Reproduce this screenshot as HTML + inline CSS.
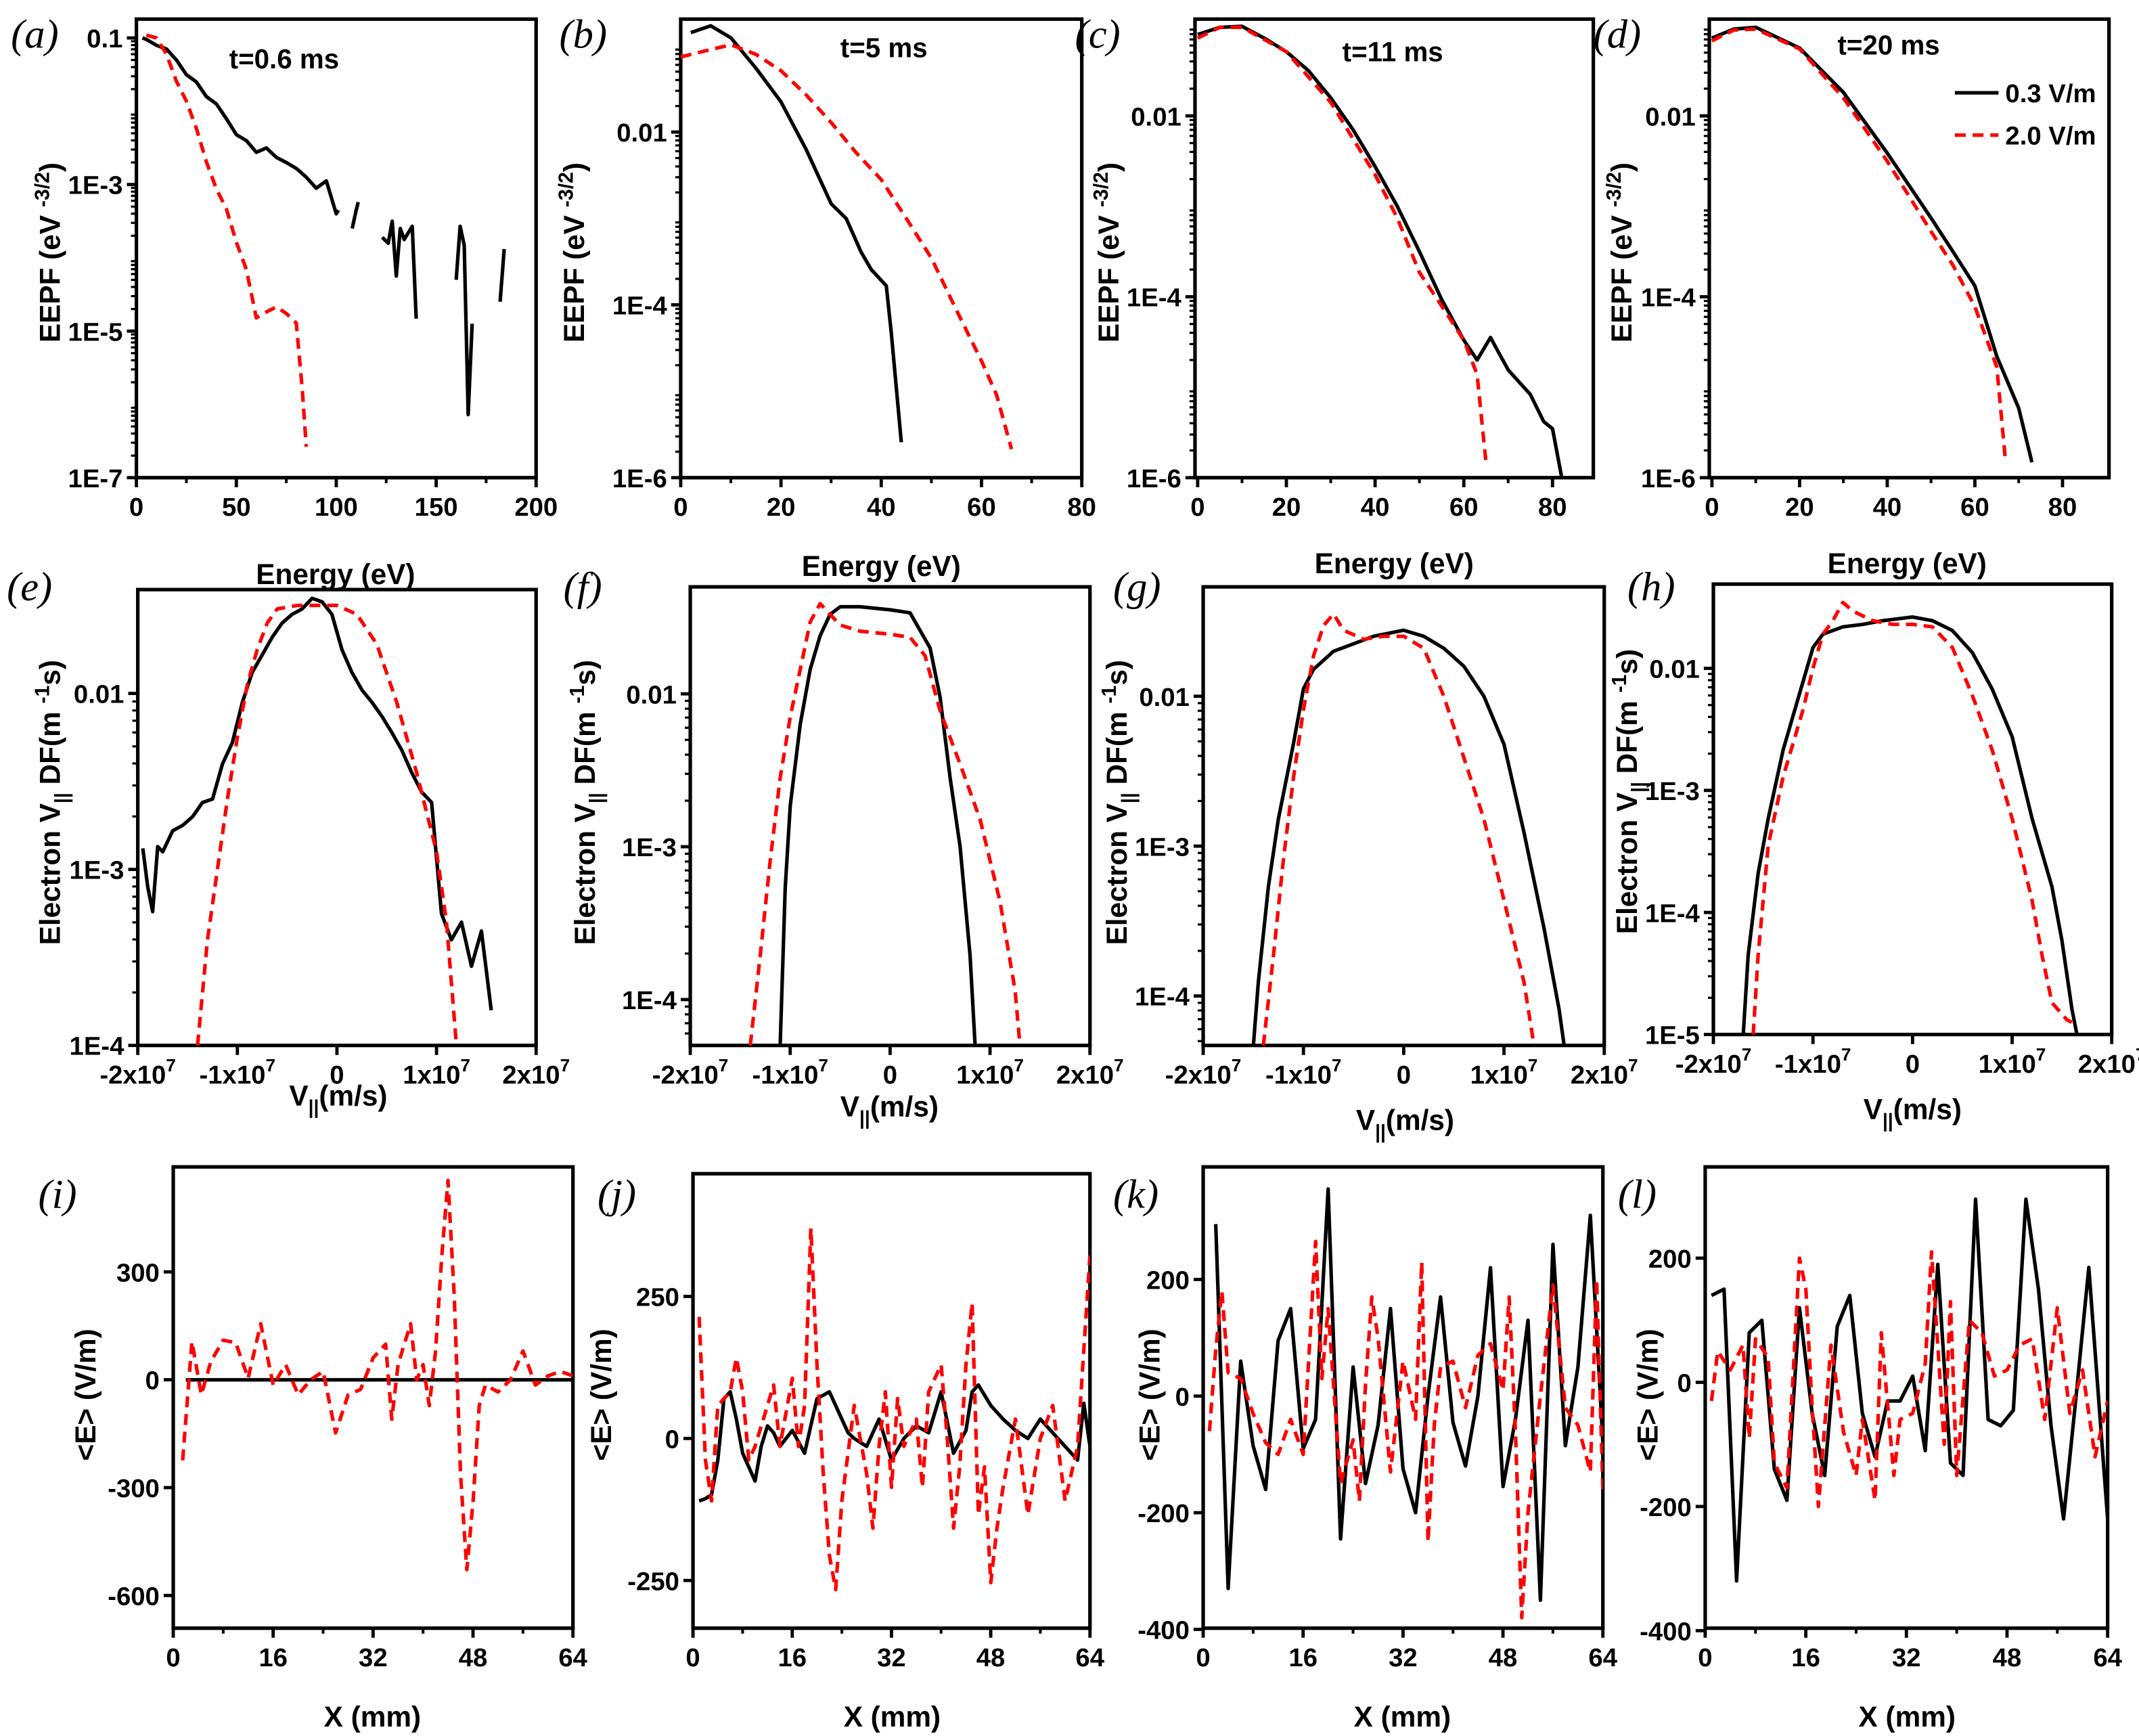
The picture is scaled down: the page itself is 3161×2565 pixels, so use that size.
<!DOCTYPE html>
<html><head><meta charset="utf-8"><style>
html,body{margin:0;padding:0;background:#fff;}
svg{display:block;}
text{font-family:"Liberation Sans",Arial,sans-serif;font-weight:bold;fill:#000;}
.pl{font-family:"Liberation Serif",serif;font-style:italic;font-weight:normal;font-size:30px;}
</style></head><body>
<svg id="fig" xmlns="http://www.w3.org/2000/svg" width="3161" height="2565" viewBox="0 0 1568 1272" preserveAspectRatio="none"></svg>
<script>
// ---------- Panel (a) data : energy (eV), log10 EEPF ----------
const aBlackE = [3,5,10,15,20,25,30,35,40,45,50,55,60,65,70,75,80,85,90,95,100,101,null,108,110,111,null,123,126,128,130,132,134,138,140,null,160,162,164,166,168,null,182,184];
const aBlackL = [-1.0,-1.02,-1.1,-1.15,-1.3,-1.5,-1.6,-1.8,-1.9,-2.1,-2.32,-2.4,-2.56,-2.5,-2.63,-2.7,-2.78,-2.9,-3.05,-2.95,-3.4,-3.35,null,-3.6,-3.35,-3.24,null,-3.72,-3.8,-3.5,-4.25,-3.6,-3.75,-3.57,-4.83,null,-4.3,-3.57,-3.83,-6.14,-4.9,null,-4.6,-3.88];
const aRedE = [5,10,15,20,25,30,35,40,45,50,55,60,65,70,75,80,83,85];
const aRedL = [-0.96,-1.0,-1.22,-1.59,-1.86,-2.23,-2.69,-3.06,-3.33,-3.79,-4.16,-4.82,-4.74,-4.67,-4.76,-4.89,-5.8,-6.58];
// ---------- Panel (b) ----------
const bBlackE = [2,6,10,15,20,25,30,33,36,38,41,42,44];
const bBlackL = [-0.85,-0.77,-0.91,-1.26,-1.65,-2.2,-2.83,-3.0,-3.39,-3.59,-3.78,-4.33,-5.59];
const bRedE = [0,5,10,15,20,25,30,35,40,45,50,55,60,63,66];
const bRedL = [-1.13,-1.06,-0.99,-1.1,-1.29,-1.57,-1.89,-2.24,-2.55,-3.0,-3.46,-4.06,-4.65,-5.04,-5.67];
// ---------- Panel (c) ----------
const cBlackE = [0,5,10,15,20,25,30,35,40,45,50,55,60,63,66,70,75,78,80,82];
const cBlackL = [-1.1,-1.02,-1.01,-1.14,-1.29,-1.5,-1.8,-2.15,-2.56,-3.0,-3.5,-4.03,-4.48,-4.7,-4.45,-4.81,-5.08,-5.38,-5.46,-5.98];
const cRedE = [0,5,10,20,30,40,45,50,55,60,63,65];
const cRedL = [-1.14,-1.02,-1.02,-1.29,-1.85,-2.65,-3.13,-3.73,-4.1,-4.48,-4.86,-5.83];
// ---------- Panel (d) ----------
const dBlackE = [0,5,10,20,30,40,50,55,60,65,70,73];
const dBlackL = [-1.14,-1.04,-1.02,-1.25,-1.74,-2.41,-3.13,-3.5,-3.88,-4.66,-5.23,-5.83];
const dRedE = [0,5,10,20,30,40,50,55,60,65,67];
const dRedL = [-1.17,-1.05,-1.04,-1.26,-1.8,-2.5,-3.28,-3.65,-4.11,-4.78,-5.83];
// ---------- Panel (e) : v (1e7 m/s), log10 VDF ----------
const eBlackV = [-1.95,-1.9,-1.85,-1.8,-1.75,-1.65,-1.55,-1.45,-1.35,-1.25,-1.15,-1.05,-0.95,-0.85,-0.75,-0.65,-0.55,-0.45,-0.35,-0.25,-0.15,-0.05,0.05,0.15,0.25,0.35,0.45,0.55,0.65,0.75,0.85,0.95,1.05,1.15,1.25,1.35,1.45,1.55];
const eBlackL = [-2.88,-3.1,-3.24,-2.87,-2.9,-2.78,-2.75,-2.7,-2.62,-2.6,-2.4,-2.28,-2.05,-1.88,-1.78,-1.68,-1.6,-1.55,-1.52,-1.46,-1.48,-1.55,-1.75,-1.88,-1.98,-2.05,-2.13,-2.22,-2.32,-2.45,-2.56,-2.62,-3.25,-3.4,-3.3,-3.55,-3.35,-3.8];
const eRedV = [-1.4,-1.3,-1.2,-1.1,-1.0,-0.9,-0.8,-0.7,-0.6,-0.4,-0.2,0,0.2,0.4,0.6,0.8,1.0,1.1,1.2];
const eRedL = [-4.0,-3.4,-3.0,-2.6,-2.25,-1.95,-1.75,-1.6,-1.52,-1.5,-1.5,-1.5,-1.55,-1.72,-2.05,-2.45,-2.9,-3.3,-4.0];
// ---------- Panel (f) ----------
const fBlackV = [-1.1,-1.05,-1.0,-0.9,-0.8,-0.7,-0.6,-0.5,-0.3,0,0.2,0.4,0.5,0.6,0.7,0.8,0.85];
const fBlackL = [-4.3,-3.27,-2.73,-2.2,-1.84,-1.62,-1.48,-1.43,-1.43,-1.45,-1.47,-1.7,-2.02,-2.55,-3.0,-3.71,-4.3];
const fRedV = [-1.4,-1.3,-1.2,-1.1,-1.0,-0.9,-0.8,-0.7,-0.6,-0.5,-0.3,0,0.2,0.35,0.5,0.7,0.9,1.1,1.25,1.3];
const fRedL = [-4.3,-3.71,-3.09,-2.55,-2.15,-1.84,-1.53,-1.41,-1.48,-1.55,-1.59,-1.61,-1.63,-1.75,-2.11,-2.46,-2.82,-3.36,-3.94,-4.3];
// ---------- Panel (g) ----------
const gBlackV = [-1.5,-1.45,-1.35,-1.25,-1.1,-1.0,-0.9,-0.7,-0.5,-0.3,0,0.2,0.4,0.6,0.8,1.0,1.2,1.4,1.55,1.6];
const gBlackL = [-4.33,-3.91,-3.27,-2.82,-2.32,-1.95,-1.82,-1.7,-1.65,-1.6,-1.56,-1.6,-1.68,-1.8,-2.0,-2.32,-2.91,-3.55,-4.09,-4.33];
const gRedV = [-1.4,-1.3,-1.2,-1.1,-1.0,-0.9,-0.8,-0.7,-0.6,-0.4,-0.2,0,0.2,0.4,0.6,0.8,1.0,1.2,1.3];
const gRedL = [-4.33,-3.73,-3.09,-2.55,-2.09,-1.73,-1.53,-1.45,-1.56,-1.62,-1.6,-1.6,-1.68,-2.0,-2.41,-2.82,-3.36,-3.91,-4.33];
// ---------- Panel (h) ----------
const hBlackV = [-1.7,-1.65,-1.55,-1.45,-1.3,-1.1,-1.0,-0.9,-0.7,-0.5,-0.3,0,0.2,0.4,0.6,0.8,1.0,1.2,1.4,1.5,1.6,1.65];
const hBlackL = [-5.0,-4.35,-3.68,-3.23,-2.67,-2.11,-1.83,-1.72,-1.66,-1.64,-1.61,-1.58,-1.61,-1.69,-1.87,-2.17,-2.56,-3.23,-3.79,-4.23,-4.79,-5.0];
const hRedV = [-1.6,-1.55,-1.45,-1.3,-1.1,-1.0,-0.9,-0.8,-0.7,-0.6,-0.4,-0.2,0,0.2,0.4,0.6,0.8,1.0,1.2,1.3,1.4,1.55,1.6];
const hRedL = [-5.0,-4.35,-3.45,-2.89,-2.34,-2.0,-1.72,-1.61,-1.46,-1.53,-1.61,-1.64,-1.64,-1.66,-1.83,-2.22,-2.67,-3.23,-3.9,-4.35,-4.74,-4.88,-4.9];
// ---------- Panel (i) : X (mm), <E> (V/m) ----------
const iBlackX = [2,64];
const iBlackE = [0,0];
const iRedX = [1.5,3,4.5,6,8,10,12,14,16,18,20,22,24,26,28,30,32,34,35,36,38,39,40,41,42,43,44,45,46,47,48,49,50,52,54,56,58,60,62,64];
const iRedE = [-224,106,-42,50,110,103,4,156,-15,42,-42,0,23,-148,-42,-27,61,99,-110,42,156,0,42,-72,80,346,554,232,-262,-528,-338,-72,-15,-34,0,80,-15,11,23,11];
// ---------- Panel (j) ----------
const jBlackX = [1,2,3,4,5,6,7,8,10,11,12,13,14,15,16,18,20,22,24,25,26,28,30,32,34,36,38,40,42,44,45,46,48,50,52,54,56,58,60,62,63,64];
const jBlackE = [-110,-106,-99,-38,70,82,34,-26,-75,-14,22,10,-14,0,14,-26,70,82,34,10,0,-14,34,-38,0,22,10,82,-26,14,82,94,58,34,14,0,34,10,-14,-38,62,-14];
const jRedX = [1,2,3,4,6,7,8,9,10,12,13,14,16,17,18,19,20,21,22,23,24,26,28,29,30,31,32,33,34,36,37,38,40,41,42,43,44,45,46,47,48,49,50,52,54,56,58,60,62,64];
const jRedE = [214,-38,-110,58,82,142,82,-38,-14,58,94,-14,106,-14,58,370,130,-62,-206,-266,-110,58,-62,-158,-14,82,-86,70,-14,34,-86,82,130,0,-158,-50,130,238,-134,-50,-254,-158,-86,34,-134,0,58,-110,-14,322];
// ---------- Panel (k) ----------
const kBlackX = [2,4,6,8,10,12,14,16,18,20,22,24,26,28,30,32,34,36,38,40,42,44,46,48,50,52,54,56,58,60,62,64];
const kBlackE = [295,-330,60,-85,-160,95,150,-90,-40,355,-245,50,-150,-50,150,-125,-200,0,170,-45,-120,0,220,-155,-40,130,-350,260,-85,50,310,-80];
const kRedX = [1,2,3,4,6,8,10,12,14,16,18,19,20,22,24,25,26,27,28,30,32,34,35,36,37,38,40,42,44,46,48,49,50,51,52,54,56,58,60,62,63,64];
const kRedE = [-60,80,180,40,30,-30,-80,-100,-40,-100,265,30,150,-150,-75,-180,20,170,100,-130,60,-40,230,-250,-50,50,60,-20,70,90,10,170,-60,-380,-200,0,190,-20,-50,-130,200,-160];
// ---------- Panel (l) ----------
const lBlackX = [1,3,5,7,9,11,13,15,17,19,21,23,25,27,29,31,33,35,37,39,41,43,45,47,49,51,53,55,57,59,61,64];
const lBlackE = [140,150,-320,80,100,-140,-190,120,-50,-150,90,140,-50,-120,-30,-30,10,-110,190,-130,-150,295,-60,-70,-45,295,150,-70,-220,-20,185,-220];
const lRedX = [1,2,4,6,7,8,10,11,13,15,16,17,18,20,22,24,25,27,28,30,31,33,35,36,37,38,39,40,42,44,46,48,50,52,54,56,58,60,62,64];
const lRedE = [-30,50,20,60,-90,70,40,-130,-170,200,150,-40,-200,60,-80,-150,-60,-190,80,-150,-60,-50,30,210,60,-100,130,-150,100,80,10,20,60,70,-60,120,-50,20,-120,-30];

// ---------- tick labels ----------
const eepfTicksA = [-1,-3,-5,-7];
const eepfTickLabelsA = ["0.1","1E-3","1E-5","1E-7"];
const eepfTicksB = [-2,-4,-6];
const eepfTickLabelsB = ["0.01","1E-4","1E-6"];
const energyTicksA = [0,50,100,150,200];
const energyTicksB = [0,20,40,60,80];
const vTicks = [-2,-1,0,1,2];
const vTickLabels = ["-2x10^7","-1x10^7","0","1x10^7","2x10^7"];
const vdfTicks3 = [-2,-3,-4];
const vdfTickLabels3 = ["0.01","1E-3","1E-4"];
const vdfTicks4 = [-2,-3,-4,-5];
const vdfTickLabels4 = ["0.01","1E-3","1E-4","1E-5"];
const xmmTicks = [0,16,32,48,64];
const eTicksI = [300,0,-300,-600];
const eTicksJ = [250,0,-250];
const eTicksK = [200,0,-200,-400];

const NS = "http://www.w3.org/2000/svg";
const svg = document.getElementById('fig');
function mk(tag, attrs, parent){
  const e = document.createElementNS(NS, tag);
  for (const k in attrs) e.setAttribute(k, attrs[k]);
  (parent||svg).appendChild(e);
  return e;
}
let clipId = 0;
function panel(p){
  const g = mk('g', {});
  
  
  const sx = v => p.px0 + (v - p.xmin) / (p.xmax - p.xmin) * (p.px1 - p.px0);
  const sy = v => p.pyb - (v - p.ymin) / (p.ymax - p.ymin) * (p.pyb - p.pyt);
  // frame
  const fr = mk('rect', {x:p.px0, y:p.pyt, width:p.px1-p.px0, height:p.pyb-p.pyt, fill:'none', stroke:'#000', 'stroke-width':2.6}, g);
  
  
  // clip
  clipId++;
  const cp = mk('clipPath', {id:'c'+clipId}, g);
  mk('rect', {x:p.px0, y:p.pyt, width:p.px1-p.px0, height:p.pyb-p.pyt}, cp);
  // x ticks
  p.xt.forEach((t, i) => {
    const x = sx(t);
    mk('line', {x1:x, x2:x, y1:p.pyb, y2:p.pyb+7, stroke:'#000', 'stroke-width':2.4}, g);
    const lab = p.xtl ? p.xtl[i] : String(t);
    const tx = mk('text', {x:x, y:p.pyb+28, 'text-anchor':'middle', 'font-size':19}, g);
    
    
    if (lab.indexOf('^') >= 0) {
      const parts = lab.split('^');
      tx.textContent = parts[0];
      const s = mk('tspan', {dy:-9, 'font-size':13}, tx);
      s.textContent = parts[1];
    } else tx.textContent = lab;
    if (i < p.xt.length-1 && p.minorX) {
      const xm = sx((t + p.xt[i+1]) / 2);
      mk('line', {x1:xm, x2:xm, y1:p.pyb, y2:p.pyb+4, stroke:'#000', 'stroke-width':2}, g);
    }
  });
  // y ticks
  p.yt.forEach((t, i) => {
    const y = sy(t);
    mk('line', {x1:p.px0-7, x2:p.px0, y1:y, y2:y, stroke:'#000', 'stroke-width':2.4}, g);
    const tx = mk('text', {x:p.px0-10, y:y+7, 'text-anchor':'end', 'font-size':19}, g);
    
    
    tx.textContent = p.ytl ? p.ytl[i] : String(t);
    if (p.log) {
      for (let d = 0; d > -1; d -= 1) {
        for (let m = 2; m <= 9; m++) {
          const lv = t + Math.log10(m) - 1;
          if (lv > p.ymin && lv < p.ymax) { const yy = sy(lv); mk('line', {x1:p.px0-4, x2:p.px0, y1:yy, y2:yy, stroke:'#000', 'stroke-width':1.6}, g); }
          const lv2 = t + Math.log10(m);
          if (lv2 < p.ymax && p.step===2) { const yy = sy(lv2); mk('line', {x1:p.px0-4, x2:p.px0, y1:yy, y2:yy, stroke:'#000', 'stroke-width':1.6}, g); }
        }
      }
    }
  });
  // series
  const cg = mk('g', {'clip-path':'url(#c'+clipId+')'}, g);
  p.series.forEach(s => {
    let d = '', pen = false;
    for (let i = 0; i < s.x.length; i++) {
      if (s.x[i] === null || s.y[i] === null) { pen = false; continue; }
      d += (pen ? 'L' : 'M') + sx(s.x[i]).toFixed(1) + ' ' + sy(s.y[i]).toFixed(1);
      pen = true;
    }
    const path = mk('path', {d:d, fill:'none', stroke:s.red ? '#ff0000' : '#000', 'stroke-width':2.6, 'stroke-linejoin':'round', 'stroke-dasharray':s.red ? '8 5' : 'none'}, cg);
    
    
  });
  return g;
}

// ---- Row 1 ----
panel({id:'a', px0:100, px1:393, pyt:14, pyb:350, xmin:0, xmax:200, ymin:-7, ymax:-0.743, log:true, step:2,
  xt:energyTicksA, minorX:true, yt:eepfTicksA, ytl:eepfTickLabelsA,
  series:[{x:aBlackE, y:aBlackL}, {x:aRedE, y:aRedL, red:true}]});
panel({id:'b', px0:499, px1:793, pyt:14, pyb:350, xmin:0, xmax:80, ymin:-6, ymax:-0.693, log:true, step:2,
  xt:energyTicksB, minorX:true, yt:eepfTicksB, ytl:eepfTickLabelsB,
  series:[{x:bBlackE, y:bBlackL}, {x:bRedE, y:bRedL, red:true}]});
panel({id:'c', px0:876, px1:1168, pyt:14, pyb:350, xmin:-0.6, xmax:89.2, ymin:-6, ymax:-0.93, log:true, step:2,
  xt:energyTicksB, minorX:true, yt:eepfTicksB, ytl:eepfTickLabelsB,
  series:[{x:cBlackE, y:cBlackL}, {x:cRedE, y:cRedL, red:true}]});
panel({id:'d', px0:1253, px1:1546, pyt:14, pyb:350, xmin:-0.6, xmax:90.6, ymin:-6, ymax:-0.93, log:true, step:2,
  xt:energyTicksB, minorX:true, yt:eepfTicksB, ytl:eepfTickLabelsB,
  series:[{x:dBlackE, y:dBlackL}, {x:dRedE, y:dRedL, red:true}]});
// ---- Row 2 ----
panel({id:'e', px0:101, px1:393, pyt:432, pyb:766, xmin:-2, xmax:2, ymin:-4, ymax:-1.41, log:true, step:1,
  xt:vTicks, xtl:vTickLabels, yt:vdfTicks3, ytl:vdfTickLabels3,
  series:[{x:eBlackV, y:eBlackL}, {x:eRedV, y:eRedL, red:true}]});
panel({id:'f', px0:506, px1:799, pyt:430, pyb:766, xmin:-2, xmax:2, ymin:-4.3, ymax:-1.3, log:true, step:1,
  xt:vTicks, xtl:vTickLabels, yt:vdfTicks3, ytl:vdfTickLabels3,
  series:[{x:fBlackV, y:fBlackL}, {x:fRedV, y:fRedL, red:true}]});
panel({id:'g', px0:882, px1:1176, pyt:430, pyb:766, xmin:-2, xmax:2, ymin:-4.33, ymax:-1.27, log:true, step:1,
  xt:vTicks, xtl:vTickLabels, yt:vdfTicks3, ytl:vdfTickLabels3,
  series:[{x:gBlackV, y:gBlackL}, {x:gRedV, y:gRedL, red:true}]});
panel({id:'h', px0:1256, px1:1548, pyt:428, pyb:758, xmin:-2, xmax:2, ymin:-5, ymax:-1.31, log:true, step:1,
  xt:vTicks, xtl:vTickLabels, yt:vdfTicks4, ytl:vdfTickLabels4,
  series:[{x:hBlackV, y:hBlackL}, {x:hRedV, y:hRedL, red:true}]});
// ---- Row 3 ----
panel({id:'i', px0:127, px1:420, pyt:855, pyb:1193, xmin:0, xmax:64, ymin:-691, ymax:592,
  xt:xmmTicks, minorX:true, yt:eTicksI,
  series:[{x:iBlackX, y:iBlackE}, {x:iRedX, y:iRedE, red:true}]});
panel({id:'j', px0:508, px1:799, pyt:860, pyb:1193, xmin:0, xmax:64, ymin:-334, ymax:466,
  xt:xmmTicks, minorX:true, yt:eTicksJ,
  series:[{x:jBlackX, y:jBlackE}, {x:jRedX, y:jRedE, red:true}]});
panel({id:'k', px0:882, px1:1175, pyt:855, pyb:1193, xmin:0, xmax:64, ymin:-398, ymax:393,
  xt:xmmTicks, minorX:true, yt:eTicksK,
  series:[{x:kBlackX, y:kBlackE}, {x:kRedX, y:kRedE, red:true}]});
panel({id:'l', px0:1250, px1:1545, pyt:855, pyb:1193, xmin:0, xmax:64, ymin:-396, ymax:347,
  xt:xmmTicks, minorX:true, yt:eTicksK,
  series:[{x:lBlackX, y:lBlackE}, {x:lRedX, y:lRedE, red:true}]});
</script>
<script>
// static labels
(function(){
  const NS = "http://www.w3.org/2000/svg";
  const svg = document.getElementById('fig');
  function txt(name, x, y, s, size, extra){
    const t = document.createElementNS(NS, 'text');
    t.setAttribute('x', x); t.setAttribute('y', y);
    t.setAttribute('font-size', size || 20);
    if (extra) for (const k in extra) t.setAttribute(k, extra[k]);
    
    
    t.innerHTML = s;
    svg.appendChild(t);
    return t;
  }
  const letters = [['a',8,35],['b',410,35],['c',788,35],['d',1168,35],['e',5,440],['f',413,440],['g',816,440],['h',1193,440],['i',28,885],['j',438,885],['k',816,885],['l',1186,885]];
  letters.forEach(l => txt('panel-letter-'+l[0], l[1], l[2], '('+l[0]+')', 30, {'class':'pl'}));
  txt('time-label-a', 168, 50, 't=0.6 ms', 20);
  txt('time-label-b', 616, 42, 't=5 ms', 20);
  txt('time-label-c', 984, 45, 't=11 ms', 20);
  txt('time-label-d', 1347, 40, 't=20 ms', 20);
  // legend
  const lg = document.createElementNS(NS,'g');
   
  lg.innerHTML = '<line x1="1433" y1="68" x2="1465" y2="68" stroke="#000" stroke-width="2.6"/><line x1="1433" y1="99" x2="1465" y2="99" stroke="#f00" stroke-width="2.6" stroke-dasharray="8 5"/>';
  svg.appendChild(lg);
  txt('legend-entry-0-3', 1470, 75, '0.3 V/m', 19);
  txt('legend-entry-2-0', 1470, 106, '2.0 V/m', 19);
  // x axis titles
  [[246,428],[646,422],[1022,420],[1398,420]].forEach((p,i)=>txt('x-axis-title-row1-'+i, p[0], p[1], 'Energy (eV)', 21, {'text-anchor':'middle'}));
  [[248,810],[652,818],[1030,828],[1402,820]].forEach((p,i)=>txt('x-axis-title-row2-'+i, p[0], p[1], 'V<tspan font-size="14" dy="6">||</tspan><tspan dy="-6">(m/s)</tspan>', 21, {'text-anchor':'middle'}));
  [[273,1265],[654,1265],[1028,1265],[1398,1265]].forEach((p,i)=>txt('x-axis-title-row3-'+i, p[0], p[1], 'X (mm)', 21, {'text-anchor':'middle'}));
  // y axis titles
  [[44,185],[428,185],[820,185],[1196,185]].forEach((p,i)=>txt('y-axis-title-row1-'+i, p[0], p[1], 'EEPF (eV <tspan font-size="15" dy="-8">-3/2</tspan><tspan dy="8">)</tspan>', 21, {'text-anchor':'middle', transform:'rotate(-90 '+p[0]+' '+p[1]+')'}));
  [[44,588],[436,588],[826,588],[1200,580]].forEach((p,i)=>txt('y-axis-title-row2-'+i, p[0], p[1], 'Electron V<tspan font-size="14" dy="6">||</tspan><tspan dy="-6"> DF(m </tspan><tspan font-size="15" dy="-8">-1</tspan><tspan dy="8">s)</tspan>', 21, {'text-anchor':'middle', transform:'rotate(-90 '+p[0]+' '+p[1]+')'}));
  [[70,1022],[448,1022],[850,1022],[1215,1022]].forEach((p,i)=>txt('y-axis-title-row3-'+i, p[0], p[1], '&lt;E&gt; (V/m)', 21, {'text-anchor':'middle', transform:'rotate(-90 '+p[0]+' '+p[1]+')'}));
})();
</script>
</body></html>
